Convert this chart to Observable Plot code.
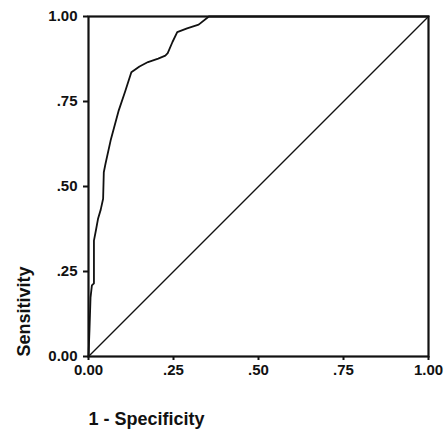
<!DOCTYPE html>
<html>
<head>
<meta charset="utf-8">
<script src="https://cdn.jsdelivr.net/npm/d3@7"></script>
<script src="https://cdn.jsdelivr.net/npm/@observablehq/plot@0.6"></script>
<style>
  html, body { margin: 0; padding: 0; background: #fff; }
</style>
</head>
<body>
<div id="chart"></div>
<script>
// ROC curve: 1 - Specificity (x) vs Sensitivity (y)
const fpr = [0, 0.003, 0.006, 0.010, 0.016, 0.016, 0.022, 0.028, 0.036, 0.043, 0.045, 0.050, 0.065, 0.089, 0.108, 0.126, 0.150, 0.175, 0.205, 0.226, 0.233, 0.247, 0.261, 0.290, 0.324, 0.354, 1.0];
const tpr = [0, 0.080, 0.174, 0.209, 0.215, 0.341, 0.372, 0.405, 0.432, 0.464, 0.542, 0.567, 0.635, 0.724, 0.780, 0.836, 0.853, 0.866, 0.876, 0.885, 0.892, 0.925, 0.954, 0.965, 0.976, 1.000, 1.000];
const refX = [0, 1];
const refY = [0, 1];
const tickValues = [0, 0.25, 0.5, 0.75, 1];
const tickLabels = ["0.00", ".25", ".50", ".75", "1.00"];
const xLabel = "1 - Specificity";
const yLabel = "Sensitivity";

const roc = fpr.map((x, i) => ({x, y: tpr[i]}));
const ref = refX.map((x, i) => ({x, y: refY[i]}));
const fmt = d => tickLabels[tickValues.indexOf(d)];

const chart = Plot.plot({
  width: 447,
  height: 432,
  marginLeft: 88,
  marginRight: 19,
  marginTop: 16,
  marginBottom: 76,
  style: {fontFamily: "'Liberation Sans', Arial, sans-serif", color: "#111", background: "#fff"},
  x: {domain: [0, 1], label: null},
  y: {domain: [0, 1], label: null},
  marks: [
    Plot.line(ref, {x: "x", y: "y", stroke: "#111", strokeWidth: 1.4}),
    Plot.line(roc, {x: "x", y: "y", stroke: "#111", strokeWidth: 1.8, curve: "linear"}),
    Plot.frame({stroke: "#111", strokeWidth: 2.2}),
    Plot.axisX({
      ticks: tickValues, tickFormat: fmt, tickSize: 4, tickPadding: 4, strokeWidth: 2,
      fontSize: 15, fontWeight: "bold", label: null
    }),
    Plot.axisY({
      ticks: tickValues, tickFormat: fmt, tickSize: 5, tickPadding: 6, strokeWidth: 2,
      fontSize: 15, fontWeight: "bold", label: null
    }),
    Plot.text([xLabel], {
      text: d => d, frameAnchor: "bottom-left", textAnchor: "start", lineAnchor: "middle",
      dy: 63, fontSize: 18, fontWeight: "bold", fill: "#111"
    }),
    Plot.text([yLabel], {
      text: d => d, frameAnchor: "bottom-left", textAnchor: "start", lineAnchor: "middle",
      rotate: -90, dx: -64, dy: 0, fontSize: 18, fontWeight: "bold", fill: "#111"
    })
  ]
});
document.getElementById("chart").appendChild(chart);
</script>
</body>
</html>
